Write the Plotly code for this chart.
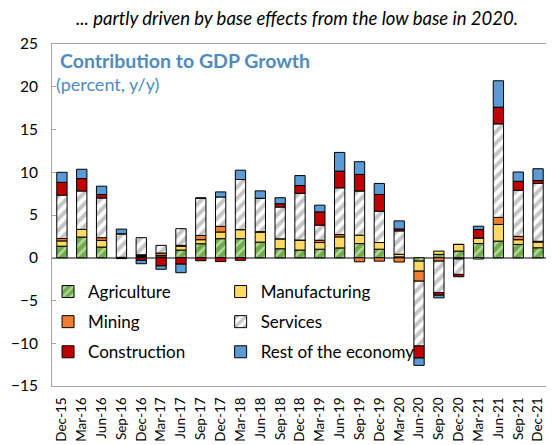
import plotly.graph_objects as go

quarters = ['Dec-15', 'Mar-16', 'Jun-16', 'Sep-16', 'Dec-16', 'Mar-17', 'Jun-17', 'Sep-17', 'Dec-17',
            'Mar-18', 'Jun-18', 'Sep-18', 'Dec-18', 'Mar-19', 'Jun-19', 'Sep-19', 'Dec-19',
            'Mar-20', 'Jun-20', 'Sep-20', 'Dec-20', 'Mar-21', 'Jun-21', 'Sep-21', 'Dec-21']

agriculture = [1.35, 2.42, 1.25, -0.1, 0.15, 0.1, 0.9, 1.64, 2.23, 2.23, 1.83, 1.05, 0.9,
               1.0, 1.15, 1.66, 1.0, 0.1, -0.4, 0.39, 0.78, 1.66, 1.95, 1.56, 1.17]
manufacturing = [0.62, 0.9, 0.78, 0.05, 0.1, 0.15, 0.45, 0.47, 0.78, 1.06, 1.17, 1.17, 1.17,
                 0.78, 1.29, 0.98, 0.78, 0.31, -1.17, 0.39, 0.78, 0.66, 1.95, 0.55, 0.66]
mining = [0.28, 0.0, 0.32, 0.0, 0.1, 0.3, 0.1, 0.5, 0.66, 0.0, 0.05, 0.0, 0.0,
          0.27, 0.27, -0.47, -0.4, -0.5, -1.17, -0.4, -0.15, 0.0, 0.82, 0.39, 0.1]
services = [5.08, 4.49, 4.64, 2.75, 2.0, 0.9, 1.95, 4.37, 3.44, 5.86, 3.91, 3.71, 5.47,
            1.76, 5.47, 5.16, 3.67, 2.73, -7.58, -3.67, -1.8, -0.15, 10.94, 5.39, 6.76]
construction = [1.49, 1.45, 0.4, 0.0, -0.3, -0.95, -0.75, -0.35, -0.45, -0.3, 0.0, 0.39, 0.9,
                1.56, 1.95, 1.95, 1.95, 0.23, -1.41, -0.31, -0.27, 0.98, 1.95, 1.05, 0.35]
rest = [1.17, 1.09, 0.98, 0.55, -0.4, -0.4, -1.0, 0.0, 0.59, 1.09, 0.86, 0.7, 1.17,
        0.78, 2.19, 1.48, 1.29, 0.94, -0.86, -0.31, 0.0, 0.39, 3.09, 1.09, 1.37]

font = "Lato"
blue_txt = "#4F8BC0"

series = [
    ('Agriculture', agriculture, dict(color='#70AD47', pattern=dict(shape='/', fgcolor='white', size=7, solidity=0.35)), 'legend'),
    ('Manufacturing', manufacturing, dict(color='#FFD966'), 'legend2'),
    ('Mining', mining, dict(color='#ED7D31'), 'legend'),
    ('Services', services, dict(color='white', pattern=dict(shape='/', fgcolor='#8C8C8C', bgcolor='white', size=8, solidity=0.5)), 'legend2'),
    ('Construction', construction, dict(color='#C00000'), 'legend'),
    ('Rest of the economy', rest, dict(color='#5B9BD5'), 'legend2'),
]

fig = go.Figure()
for name, vals, mk, lg in series:
    mk['line'] = dict(color='black', width=1)
    fig.add_trace(go.Bar(x=quarters, y=vals, name=name, marker=mk, legend=lg, legendgroup=name))

# page body keeps an 8px margin, so the figure is drawn 8px smaller and offset
W, H = 546, 437
leg = dict(orientation='v', xanchor='left', yanchor='middle', y=(378 - 314) / 342, bgcolor='rgba(0,0,0,0)',
           tracegroupgap=5, font=dict(family=font, size=17, color='black'))

fig.update_layout(
    barmode='relative', bargap=0.48,
    width=W, height=H,
    margin=dict(l=44, r=6, t=36, b=59, autoexpand=False),
    paper_bgcolor='white', plot_bgcolor='white',
    font=dict(family=font, color='black'),
    title=dict(text='<i>... partly driven by base effects from the low base in 2020.</i>',
               x=289 / W, xanchor='center', y=1 - 11 / H, yanchor='middle',
               font=dict(family=font, size=18.5, color='black')),
    legend=dict(leg, x=-0.008),
    legend2=dict(leg, x=0.340),
    xaxis=dict(tickangle=-90, tickfont=dict(size=13.5), showline=True, linecolor='#A6A6A6',
               mirror=True, ticks='', showgrid=False, automargin=False, ticklabelstandoff=5),
    yaxis=dict(range=[-15, 25], dtick=5, ticks='inside', ticklen=4, tickcolor='#A6A6A6',
               showline=True, linecolor='#A6A6A6', mirror=True, showgrid=False,
               zeroline=True, zerolinecolor='#808080', zerolinewidth=2, automargin=False,
               tickfont=dict(size=15.5), ticklabelstandoff=10),
    annotations=[
        dict(text='<b>Contribution to GDP Growth</b>', xref='paper', yref='paper',
             x=0.012, y=1 - (60 - 44) / 342, xanchor='left', yanchor='middle', showarrow=False,
             font=dict(family=font, size=19.5, color=blue_txt)),
        dict(text='(percent, y/y)', xref='paper', yref='paper',
             x=0.004, y=1 - (84 - 44) / 342, xanchor='left', yanchor='middle', showarrow=False,
             font=dict(family=font, size=18, color=blue_txt)),
    ],
)

fig.write_html("out.html")
